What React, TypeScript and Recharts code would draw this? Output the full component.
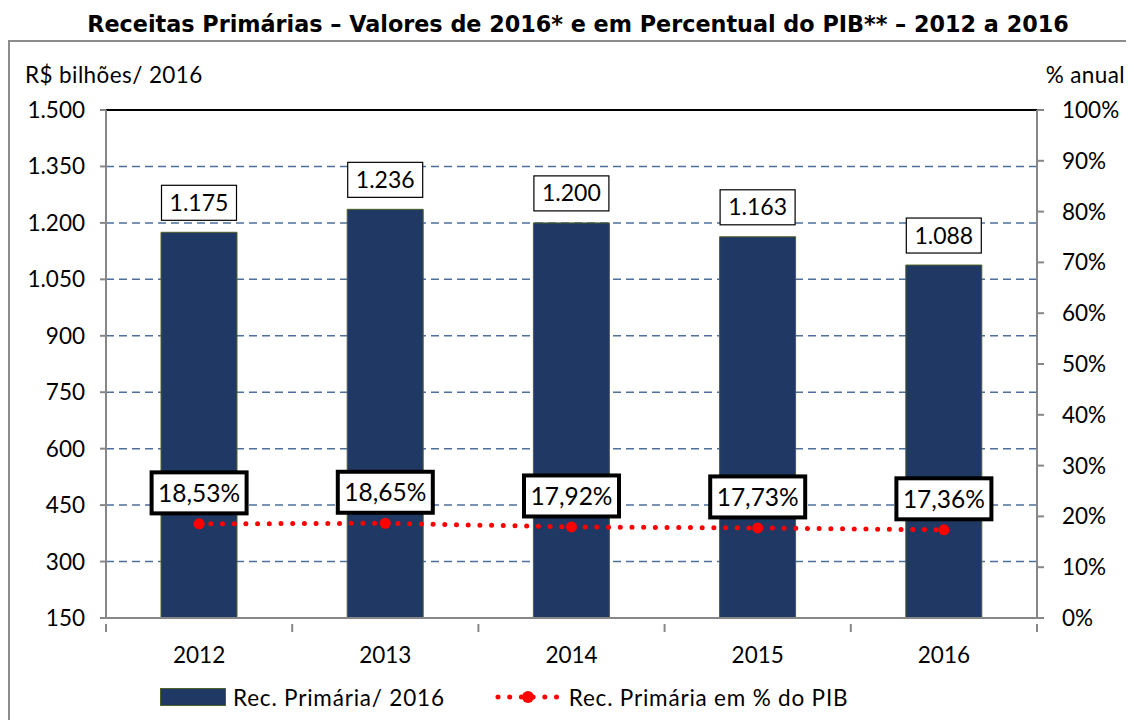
import React from "react";
import {
  ComposedChart,
  Bar,
  Line,
  XAxis,
  YAxis,
  CartesianGrid,
  ReferenceLine,
  LabelList,
  Legend,
} from "recharts";

const years = ["2012", "2013", "2014", "2015", "2016"];
const receitas = [1175, 1236, 1200, 1163, 1088];
const pctPib = [18.53, 18.65, 17.92, 17.73, 17.36];
const leftTicks = [150, 300, 450, 600, 750, 900, 1050, 1200, 1350, 1500];
const rightTicks = [0, 10, 20, 30, 40, 50, 60, 70, 80, 90, 100];

const data = years.map((year, i) => ({
  year,
  receita: receitas[i],
  pct: pctPib[i],
}));

const FONT = "Lato, 'Noto Sans', sans-serif";
const BAR_FILL = "#203864";
const RED = "#ff0000";
const AXIS = "#878787";
const BAND = 186.2;
const FS = 22.5;

const fmtBR = (v: number) =>
  String(v).replace(/\B(?=(\d{3})+(?!\d))/g, ".");
const fmtPct = (v: number) => v.toFixed(2).replace(".", ",") + "%";

const XTick = (props: any) => {
  const { x, y, payload, index } = props;
  const half = BAND / 2;
  return (
    <g>
      <line x1={x - half} x2={x - half} y1={y - 2} y2={y + 6} stroke={AXIS} strokeWidth={2} />
      {index === years.length - 1 && (
        <line x1={x + half} x2={x + half} y1={y - 2} y2={y + 6} stroke={AXIS} strokeWidth={2} />
      )}
      <text x={x} y={y + 37} textAnchor="middle" fontSize={FS} fill="#000" fontFamily={FONT}>
        {payload.value}
      </text>
    </g>
  );
};

const BarValueLabel = (props: any) => {
  const { x, y, width, value } = props;
  const cx = x + width / 2;
  const w = 75;
  const h = 35;
  const top = y - 12 - h;
  return (
    <g>
      <rect x={cx - w / 2} y={top} width={w} height={h} fill="#fff" stroke="#000" strokeWidth={1.2} />
      <text x={cx} y={top + h / 2 + 8} textAnchor="middle" fontSize={23} fontFamily={FONT} fill="#000">
        {fmtBR(value)}
      </text>
    </g>
  );
};

const PctLabel = (props: any) => {
  const { x, y, value } = props;
  const w = 95;
  const h = 41;
  const cy = y - 31;
  return (
    <g>
      <rect x={x - w / 2} y={cy - h / 2} width={w} height={h} fill="#fff" stroke="#000" strokeWidth={4} />
      <text x={x} y={cy + 9} textAnchor="middle" fontSize={24.5} fontFamily={FONT} fill="#000">
        {fmtPct(value)}
      </text>
    </g>
  );
};

const LegendContent = () => (
  <div
    style={{
      display: "flex",
      alignItems: "center",
      height: 26,
      fontFamily: FONT,
      fontSize: FS,
      color: "#000",
      paddingLeft: 152,
      letterSpacing: 0.8,
      whiteSpace: "nowrap",
    }}
  >
    <span
      style={{
        display: "inline-block",
        width: 66,
        height: 18,
        background: BAR_FILL,
        border: "1.5px solid #4f6228",
        boxSizing: "border-box",
      }}
    />
    <span style={{ marginLeft: 7 }}>Rec. Primária/ 2016</span>
    <svg width={66} height={20} style={{ marginLeft: 50 }}>
      <line x1={3} x2={63} y1={10} y2={10} stroke={RED} strokeWidth={5} strokeDasharray="0 11.7" strokeLinecap="round" />
      <circle cx={33} cy={10} r={6} fill={RED} />
    </svg>
    <span style={{ marginLeft: 8 }}>Rec. Primária em % do PIB</span>
  </div>
);

export default function App() {
  return (
    <div style={{ position: "relative", width: 1126, height: 712, fontFamily: FONT, overflow: "hidden" }}>
      <div
        style={{
          position: "absolute",
          top: 2,
          left: 0,
          width: 1126,
          textAlign: "center",
          fontFamily: "'DejaVu Sans', sans-serif",
          fontWeight: "bold",
          fontSize: 22.3,
          lineHeight: "28px",
          paddingLeft: 14,
          boxSizing: "border-box",
          whiteSpace: "nowrap",
        }}
      >
        Receitas Primárias – Valores de 2016* e em Percentual do PIB** – 2012 a 2016
      </div>
      <div
        style={{
          position: "absolute",
          top: 32,
          left: 0,
          width: 1140,
          height: 700,
          borderTop: "2px solid #8c8c8c",
          borderLeft: "2px solid #8c8c8c",
        }}
      />
      <div style={{ position: "absolute", top: 0, left: 0 }}>
        <ComposedChart
          width={1126}
          height={712}
          data={data}
          margin={{ top: 102, right: 0, left: 0, bottom: 10 }}
        >
          <CartesianGrid
            yAxisId="left"
            vertical={false}
            stroke="#4f6f9c"
            strokeWidth={1.5}
            strokeDasharray="8 5"
          />
          <XAxis
            dataKey="year"
            height={66}
            tick={<XTick />}
            tickLine={false}
            axisLine={{ stroke: AXIS, strokeWidth: 2 }}
            interval={0}
          />
          <YAxis
            yAxisId="left"
            width={98}
            domain={[150, 1500]}
            ticks={leftTicks}
            tickFormatter={fmtBR}
            tick={{ fontSize: FS, fill: "#000", fontFamily: FONT }}
            tickSize={6}
            tickMargin={15}
            tickLine={{ stroke: AXIS, strokeWidth: 2 }}
            axisLine={{ stroke: AXIS, strokeWidth: 2 }}
            allowDataOverflow
            label={{
              content: () => (
                <text x={17} y={75} fontSize={FS} fontFamily={FONT} fill="#000" letterSpacing={0.4}>
                  R$ bilhões/ 2016
                </text>
              ),
            }}
          />
          <YAxis
            yAxisId="right"
            orientation="right"
            width={97}
            domain={[0, 100]}
            ticks={rightTicks}
            tickFormatter={(v: number) => `${v}%`}
            tick={{ fontSize: FS, fill: "#000", fontFamily: FONT, textAnchor: "start" }}
            tickSize={7}
            tickMargin={18}
            tickLine={{ stroke: AXIS, strokeWidth: 2 }}
            axisLine={{ stroke: AXIS, strokeWidth: 2 }}
            label={{
              content: () => (
                <text x={1117} y={75} textAnchor="end" fontSize={FS} fontFamily={FONT} fill="#000" letterSpacing={0.4}>
                  % anual
                </text>
              ),
            }}
          />
          <ReferenceLine yAxisId="left" y={1500} stroke="#000" strokeWidth={2} />
          <Bar
            yAxisId="left"
            dataKey="receita"
            name="Rec. Primária/ 2016"
            fill={BAR_FILL}
            stroke="#4f6228"
            strokeWidth={1}
            barSize={76}
            isAnimationActive={false}
          >
            <LabelList dataKey="receita" content={<BarValueLabel />} />
          </Bar>
          <Line
            yAxisId="right"
            dataKey="pct"
            name="Rec. Primária em % do PIB"
            stroke={RED}
            strokeWidth={5}
            strokeDasharray="0 11.7"
            strokeLinecap="round"
            dot={{ r: 5.5, fill: RED, stroke: RED, strokeWidth: 0, strokeDasharray: "" }}
            activeDot={false}
            isAnimationActive={false}
          >
            <LabelList dataKey="pct" content={<PctLabel />} />
          </Line>
          <Legend verticalAlign="bottom" content={<LegendContent />} />
        </ComposedChart>
      </div>
    </div>
  );
}
